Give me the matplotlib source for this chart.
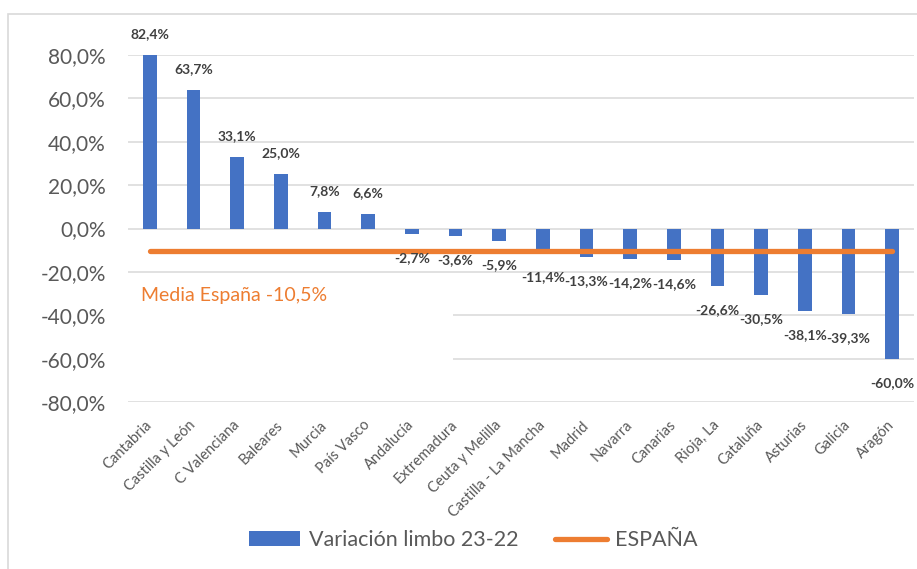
import matplotlib
matplotlib.use("Agg")
import matplotlib.pyplot as plt
from matplotlib.patches import Rectangle
import numpy as np

plt.rcParams["font.family"] = ["Lato", "DejaVu Sans"]

# datos
regiones = [
    "Cantabria", "Castilla y León", "C Valenciana", "Baleares", "Murcia",
    "País Vasco", "Andalucía", "Extremadura", "Ceuta y Melilla",
    "Castilla - La Mancha", "Madrid", "Navarra", "Canarias", "Rioja, La",
    "Cataluña", "Asturias", "Galicia", "Aragón",
]
variacion = [82.4, 63.7, 33.1, 25.0, 7.8, 6.6, -2.7, -3.6, -5.9,
             -11.4, -13.3, -14.2, -14.6, -26.6, -30.5, -38.1, -39.3, -60.0]
media_espana = -10.5
yticks = [80, 60, 40, 20, 0, -20, -40, -60, -80]

azul = "#4472C4"
naranja = "#ED7D31"
gris = "#595959"

fig = plt.figure(figsize=(9.17, 5.69), dpi=100)
ax = fig.add_axes([128 / 917, 1 - 402 / 569, (914 - 128) / 917, (402 - 55) / 569])

x = np.arange(len(regiones))
ymin, ymax = -80, 80

barras = ax.bar(x, variacion, width=0.32, color=azul, zorder=3, label="Variación limbo 23-22")
linea, = ax.plot([x[0], x[-1]], [media_espana, media_espana], color=naranja, lw=3.8,
                 solid_capstyle="round", zorder=4, label="ESPAÑA")

# etiquetas de datos
for xi, v in zip(x, variacion):
    top = min(max(v, ymin), ymax)
    off = 21 if v >= 0 else -24
    txt = f"{v:.1f}%".replace(".", ",")
    ax.annotate(txt, (xi, top), xytext=(0, off), textcoords="offset pixels",
                ha="center", va="center", fontsize=10, fontweight="bold",
                color="#404040", zorder=6, annotation_clip=False)

# caja blanca del texto de la media
ax.add_patch(Rectangle((-0.5, -72), 7.45, 48, facecolor="white", edgecolor="none", zorder=2))
ax.text(-0.2, -31, "Media España -10,5%", color=naranja, fontsize=14,
        ha="left", va="center", zorder=5)

ax.set_xlim(-0.5, len(regiones) - 0.5)
ax.set_ylim(ymin, ymax)
ax.set_yticks(yticks)
ax.set_yticklabels([f"{t:.1f}%".replace(".", ",") for t in yticks], fontsize=15, color=gris)
ax.set_xticks(x)
ax.set_xticklabels(regiones, rotation=45, ha="right", va="center",
                   rotation_mode="anchor", fontsize=10.5, color=gris)
ax.tick_params(axis="y", length=0, pad=16)
ax.tick_params(axis="x", length=0, pad=15)
ax.grid(axis="y", color="#D9D9D9", lw=1.1, zorder=1)
ax.set_axisbelow(True)
for s in ax.spines.values():
    s.set_visible(False)

fig.legend(handles=[barras, linea], loc="center", bbox_to_anchor=(0.516, 0.051),
           ncol=2, frameon=False, fontsize=15.5, labelcolor=gris,
           handlelength=2.4, handleheight=0.65, handletextpad=0.4, columnspacing=1.7)

# borde del gráfico
fig.patches.append(Rectangle((8 / 917, -0.1), 1.2, (569 - 14) / 569 + 0.1,
                             transform=fig.transFigure, fill=False,
                             edgecolor="#D9D9D9", lw=1.2))

fig.savefig("out.png", dpi=100)
